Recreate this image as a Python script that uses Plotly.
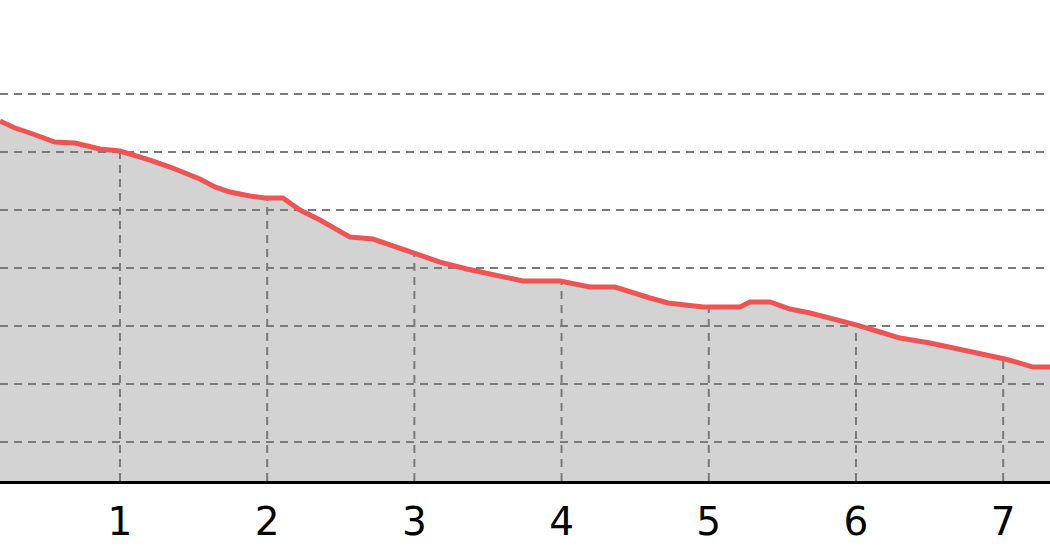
import numpy as np
import plotly.graph_objects as go

# ---- data ----
x_vals = [0.185, 0.287, 0.389, 0.490, 0.558, 0.694, 0.796, 0.864, 1.000, 1.102,
          1.204, 1.340, 1.442, 1.543, 1.645, 1.747, 1.883, 1.985, 2.107, 2.223,
          2.359, 2.529, 2.563, 2.719, 2.834, 3.004, 3.174, 3.357, 3.446, 3.615,
          3.738, 3.989, 4.091, 4.193, 4.363, 4.465, 4.601, 4.723, 4.961, 5.212,
          5.280, 5.416, 5.552, 5.688, 5.823, 6.007, 6.163, 6.299, 6.503, 6.707,
          6.910, 7.012, 7.114, 7.202, 7.318]
y_vals = [6.534, 6.414, 6.328, 6.224, 6.172, 6.155, 6.103, 6.052, 6.017, 5.948,
          5.862, 5.741, 5.638, 5.534, 5.397, 5.310, 5.241, 5.207, 5.207, 5.000,
          4.828, 4.603, 4.534, 4.500, 4.397, 4.259, 4.103, 3.983, 3.931, 3.845,
          3.776, 3.776, 3.724, 3.672, 3.672, 3.586, 3.483, 3.397, 3.328, 3.328,
          3.414, 3.414, 3.293, 3.224, 3.138, 3.017, 2.897, 2.793, 2.707, 2.603,
          2.500, 2.431, 2.362, 2.293, 2.293]
x_ticks = [1, 2, 3, 4, 5, 6, 7]
grid_y = [1, 2, 3, 4, 5, 6, 7]

X_RANGE = [0.185, 7.318]
Y_RANGE = [0.328, 8.621]

GRID_COLOR = "#7a7a7a"
LINE_COLOR = "rgb(238,84,84)"
FILL_COLOR = "#d3d3d3"

fig = go.Figure()

# filled area (no outline)
fig.add_trace(go.Scatter(x=x_vals, y=y_vals, mode="lines", fill="tozeroy",
                         fillcolor=FILL_COLOR, line=dict(width=0, color=FILL_COLOR),
                         hoverinfo="skip", showlegend=False))

# horizontal dashed grid lines (drawn above fill)
gx, gy = [], []
for g in grid_y:
    gx += [X_RANGE[0], X_RANGE[1], None]
    gy += [g, g, None]
fig.add_trace(go.Scatter(x=gx, y=gy, mode="lines",
                         line=dict(color=GRID_COLOR, width=2, dash="8px,6px"),
                         hoverinfo="skip", showlegend=False))

# vertical dashed drop lines from curve to axis
vx, vy = [], []
for t in x_ticks:
    top = float(np.interp(t, x_vals, y_vals))
    vx += [t, t, None]
    vy += [Y_RANGE[0], top, None]
fig.add_trace(go.Scatter(x=vx, y=vy, mode="lines",
                         line=dict(color=GRID_COLOR, width=2, dash="8px,6px"),
                         hoverinfo="skip", showlegend=False))

# red profile line
fig.add_trace(go.Scatter(x=x_vals, y=y_vals, mode="lines",
                         line=dict(color=LINE_COLOR, width=5),
                         showlegend=False))

fig.update_layout(
    width=1050, height=560,
    margin=dict(l=0, r=0, t=0, b=79),
    paper_bgcolor="white", plot_bgcolor="white",
    font=dict(family="DejaVu Sans", color="black"),
    showlegend=False,
)
fig.update_xaxes(range=X_RANGE, tickvals=x_ticks, ticktext=[str(t) for t in x_ticks],
                 showgrid=False, zeroline=False, showline=True, linecolor="black",
                 linewidth=3, ticks="", tickfont=dict(size=39, family="DejaVu Sans", color="black"),
                 ticklabelstandoff=4)
fig.update_yaxes(range=Y_RANGE, showgrid=False, zeroline=False, showticklabels=False,
                 showline=False, ticks="")

fig.write_html("out.html",
               config={"displayModeBar": False},
               post_script="document.body.style.margin='0';document.body.style.padding='0';")
